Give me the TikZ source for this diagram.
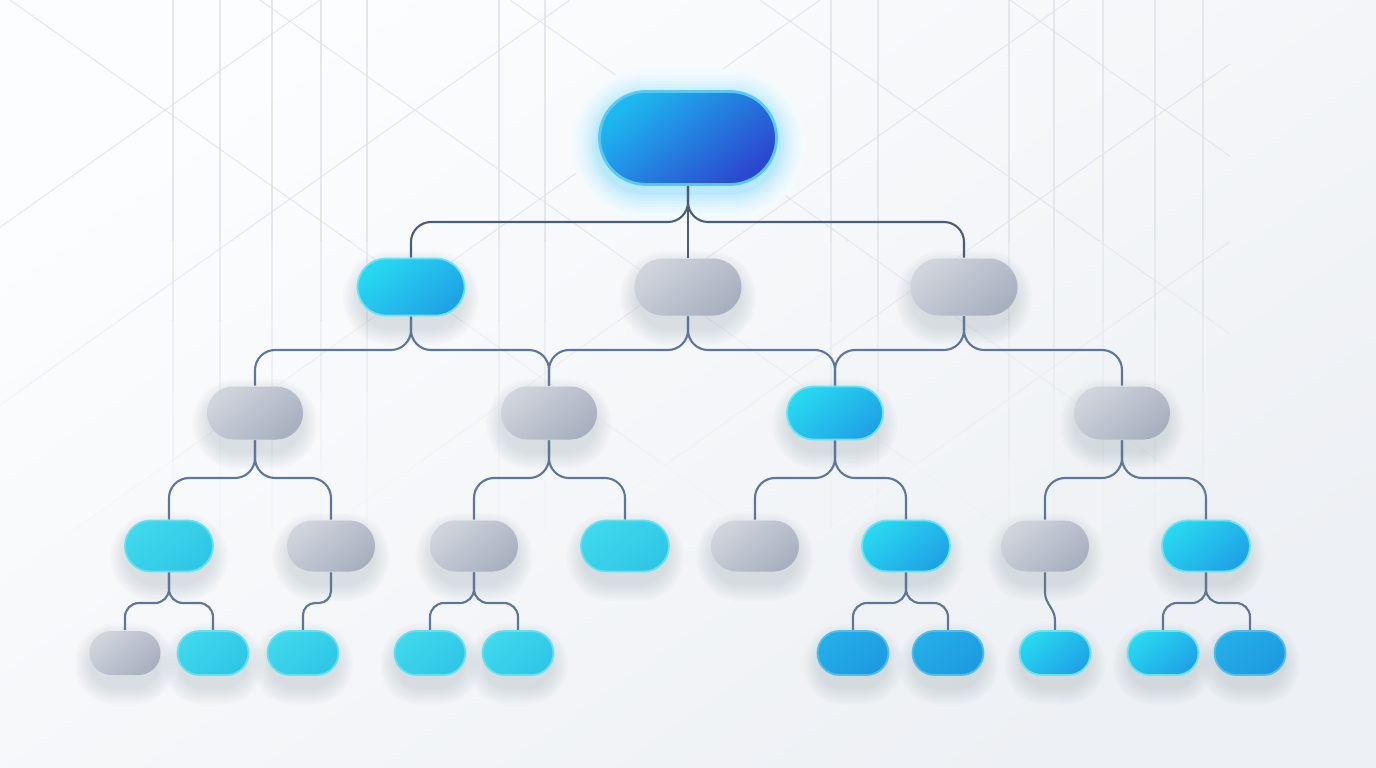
\documentclass[tikz,border=0pt]{standalone}
\usepackage{tikz}
\usetikzlibrary{calc}

\definecolor{bgA}{HTML}{FCFDFE}
\definecolor{bgB}{HTML}{EDF0F4}
\definecolor{gridc}{HTML}{DFE3E9}
\definecolor{shadowc}{HTML}{4A5A78}
\definecolor{wirec}{HTML}{5E7697}
\definecolor{rootA}{HTML}{1DB8F0}
\definecolor{rootB}{HTML}{2C47CF}
\definecolor{greyA}{HTML}{D0D4DC}
\definecolor{greyB}{HTML}{A8B0C0}
\definecolor{aquaA}{HTML}{3FD8EC}
\definecolor{aquaB}{HTML}{2FC6E6}
\definecolor{cyanA}{HTML}{28D8F0}
\definecolor{cyanB}{HTML}{1FA2E6}
\definecolor{blueA}{HTML}{24AEE8}
\definecolor{blueB}{HTML}{1E9AE0}

\pgfdeclarelayer{back}
\pgfdeclarelayer{wires}
\pgfsetlayers{back,wires,main}

\begin{document}
\begin{tikzpicture}[
    pill/.style={rectangle, inner sep=0pt, line width=0.5pt},
    rootsize/.style={minimum width=1.77cm, minimum height=0.93cm, rounded corners=0.465cm},
    lvlone/.style={minimum width=1.07cm, minimum height=0.57cm, rounded corners=0.285cm},
    lvltwo/.style={minimum width=0.96cm, minimum height=0.53cm, rounded corners=0.265cm},
    lvlthree/.style={minimum width=0.88cm, minimum height=0.51cm, rounded corners=0.255cm},
    lvlfour/.style={minimum width=0.71cm, minimum height=0.44cm, rounded corners=0.22cm},
    rootfill/.style={top color=rootA, bottom color=rootB, shading angle=40, draw=rootA!75!white, line width=0.8pt},
    greyfill/.style={top color=greyA, bottom color=greyB, shading angle=40},
    aquafill/.style={top color=aquaA, bottom color=aquaB, shading angle=40, draw=aquaA!80!white},
    cyanfill/.style={top color=cyanA, bottom color=cyanB, shading angle=40, draw=cyanA!70!white},
    bluefill/.style={top color=blueA, bottom color=blueB, shading angle=40, draw=blueA!80!white},
    wire/.style={draw=wirec, line width=0.6pt, rounded corners=0.2cm},
  ]
\useasboundingbox (0,0) rectangle (13.76,-7.68);

% nodes
\node[pill, rootsize, rootfill] (root) at (6.88,-1.38) {};

\node[pill, lvlone, cyanfill] (l1a) at (4.11,-2.87) {};
\node[pill, lvlone, greyfill] (l1b) at (6.88,-2.87) {};
\node[pill, lvlone, greyfill] (l1c) at (9.64,-2.87) {};

\node[pill, lvltwo, greyfill] (l2a) at (2.55,-4.13) {};
\node[pill, lvltwo, greyfill] (l2b) at (5.49,-4.13) {};
\node[pill, lvltwo, cyanfill] (l2c) at (8.35,-4.13) {};
\node[pill, lvltwo, greyfill] (l2d) at (11.22,-4.13) {};

\node[pill, lvlthree, aquafill] (l3a) at (1.69,-5.46) {};
\node[pill, lvlthree, greyfill] (l3b) at (3.31,-5.46) {};
\node[pill, lvlthree, greyfill] (l3c) at (4.74,-5.46) {};
\node[pill, lvlthree, aquafill] (l3d) at (6.25,-5.46) {};
\node[pill, lvlthree, greyfill] (l3e) at (7.55,-5.46) {};
\node[pill, lvlthree, cyanfill] (l3f) at (9.06,-5.46) {};
\node[pill, lvlthree, greyfill] (l3g) at (10.45,-5.46) {};
\node[pill, lvlthree, cyanfill] (l3h) at (12.06,-5.46) {};

\node[pill, lvlfour, greyfill] (l4a) at (1.25,-6.53) {};
\node[pill, lvlfour, aquafill] (l4b) at (2.13,-6.53) {};
\node[pill, lvlfour, aquafill] (l4c) at (3.03,-6.53) {};
\node[pill, lvlfour, aquafill] (l4d) at (4.30,-6.53) {};
\node[pill, lvlfour, aquafill] (l4e) at (5.18,-6.53) {};
\node[pill, lvlfour, bluefill] (l4f) at (8.53,-6.53) {};
\node[pill, lvlfour, bluefill] (l4g) at (9.48,-6.53) {};
\node[pill, lvlfour, cyanfill] (l4h) at (10.55,-6.53) {};
\node[pill, lvlfour, cyanfill] (l4i) at (11.63,-6.53) {};
\node[pill, lvlfour, bluefill] (l4j) at (12.50,-6.53) {};

% background, faint lattice (fading out in bands), glow round the root, soft shadows
\begin{pgfonlayer}{back}
\fill[bgA] (0,0) rectangle (13.76,-7.68);
\shade[top color=bgA, bottom color=bgB, shading angle=35] (0,0) rectangle (13.76,-7.68);
\foreach \top/\bot/\m in {0/-2.4/0.8,-2.4/-3.2/0.6,-3.2/-3.9/0.42,-3.9/-4.6/0.25,-4.6/-5.3/0.1}{
  \begin{scope}
    \clip (0,\top) rectangle (12.3,\bot);
    \foreach \x in {1.73,2.20,2.72,3.21,3.67,4.99,5.45,8.31,8.78,10.09,10.54,11.03,11.55,12.03}
      \draw[gridc, opacity=\m, line width=0.3pt] (\x,0) -- (\x,-5.3);
    \foreach \c in {0.1,2.6,5.1,7.6,10.1,12.6}
      \draw[gridc, opacity=\m, line width=0.3pt] (\c,0) -- ++(7.6,-5.4);
    \foreach \c in {3.2,5.7,8.2,10.7,13.2,15.7}
      \draw[gridc, opacity=\m, line width=0.3pt] (\c,0) -- ++(-7.6,-5.4);
  \end{scope}
}
\foreach \g/\k in {9/3,8/5,7/7,6/10,5/13,4/16,3/20,2/25,1/30}
  \fill[rootA!\k!bgA, rounded corners={0.465cm+\g*0.03cm}]
    ($(root.south west)+(-\g*0.03,-\g*0.03-0.06)$) rectangle ($(root.north east)+(\g*0.03,\g*0.03-0.06)$);
\foreach \n/\r in {l1a/0.285,l1b/0.285,l1c/0.285,
    l2a/0.265,l2b/0.265,l2c/0.265,l2d/0.265,
    l3a/0.255,l3b/0.255,l3c/0.255,l3d/0.255,l3e/0.255,l3f/0.255,l3g/0.255,l3h/0.255,
    l4a/0.22,l4b/0.22,l4c/0.22,l4d/0.22,l4e/0.22,l4f/0.22,l4g/0.22,l4h/0.22,l4i/0.22,l4j/0.22}
  \foreach \s in {1,...,8}
    \fill[shadowc, opacity=0.018, rounded corners={\r cm+\s*0.022cm}]
      ($(\n.south west)+(-\s*0.022+0.04,-\s*0.022-0.11)$) rectangle ($(\n.north east)+(\s*0.022-0.04,\s*0.022-0.11)$);
\end{pgfonlayer}

% connectors
\begin{pgfonlayer}{wires}
\draw[wire, draw=wirec!80!black] (root.south) |- (l1a.north |- 0,-2.22) -- (l1a.north);
\draw[wire, draw=wirec!80!black] (root.south) -- (l1b.north);
\draw[wire, draw=wirec!80!black] (root.south) |- (l1c.north |- 0,-2.22) -- (l1c.north);

\draw[wire] (l1a.south) |- (l2a.north |- 0,-3.50) -- (l2a.north);
\draw[wire] (l1a.south) |- (l2b.north |- 0,-3.50) -- (l2b.north);
\draw[wire] (l1b.south) |- (l2b.north |- 0,-3.50) -- (l2b.north);
\draw[wire] (l1b.south) |- (l2c.north |- 0,-3.50) -- (l2c.north);
\draw[wire] (l1c.south) |- (l2c.north |- 0,-3.50) -- (l2c.north);
\draw[wire] (l1c.south) |- (l2d.north |- 0,-3.50) -- (l2d.north);

\draw[wire] (l2a.south) |- (l3a.north |- 0,-4.78) -- (l3a.north);
\draw[wire] (l2a.south) |- (l3b.north |- 0,-4.78) -- (l3b.north);
\draw[wire] (l2b.south) |- (l3c.north |- 0,-4.78) -- (l3c.north);
\draw[wire] (l2b.south) |- (l3d.north |- 0,-4.78) -- (l3d.north);
\draw[wire] (l2c.south) |- (l3e.north |- 0,-4.78) -- (l3e.north);
\draw[wire] (l2c.south) |- (l3f.north |- 0,-4.78) -- (l3f.north);
\draw[wire] (l2d.south) |- (l3g.north |- 0,-4.78) -- (l3g.north);
\draw[wire] (l2d.south) |- (l3h.north |- 0,-4.78) -- (l3h.north);

\draw[wire, rounded corners=0.14cm] (l3a.south) |- (l4a.north |- 0,-6.03) -- (l4a.north);
\draw[wire, rounded corners=0.14cm] (l3a.south) |- (l4b.north |- 0,-6.03) -- (l4b.north);
\draw[wire, rounded corners=0.12cm] (l3b.south) |- (l4c.north |- 0,-6.03) -- (l4c.north);
\draw[wire, rounded corners=0.14cm] (l3c.south) |- (l4d.north |- 0,-6.03) -- (l4d.north);
\draw[wire, rounded corners=0.14cm] (l3c.south) |- (l4e.north |- 0,-6.03) -- (l4e.north);
\draw[wire, rounded corners=0.14cm] (l3f.south) |- (l4f.north |- 0,-6.03) -- (l4f.north);
\draw[wire, rounded corners=0.14cm] (l3f.south) |- (l4g.north |- 0,-6.03) -- (l4g.north);
\draw[wire, sharp corners] (l3g.south) -- ++(0,-0.2) to[out=-90,in=90] ($(l4h.north)+(0,0.1)$) -- (l4h.north);
\draw[wire, rounded corners=0.14cm] (l3h.south) |- (l4i.north |- 0,-6.03) -- (l4i.north);
\draw[wire, rounded corners=0.14cm] (l3h.south) |- (l4j.north |- 0,-6.03) -- (l4j.north);
\end{pgfonlayer}
\end{tikzpicture}
\end{document}
